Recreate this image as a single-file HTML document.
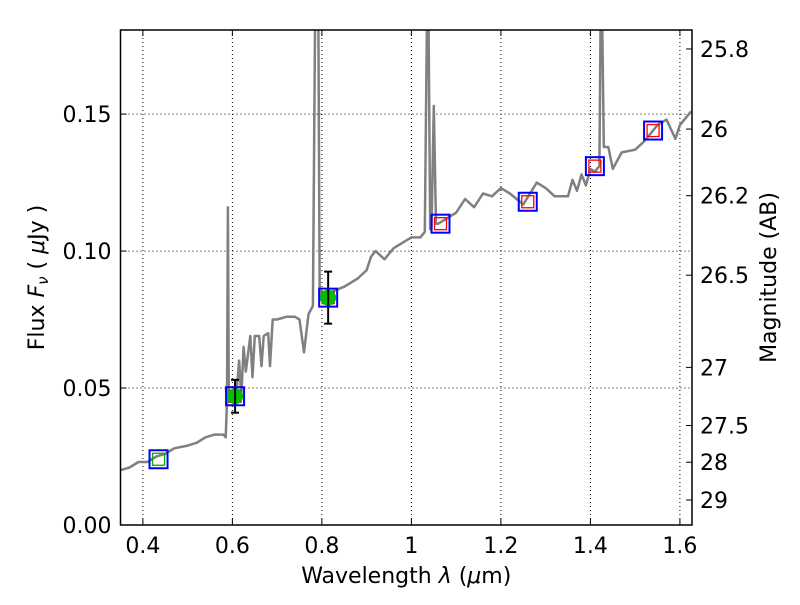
<!DOCTYPE html>
<html><head><meta charset="utf-8"><style>
body{margin:0;background:#fff}
svg text{font-family:"DejaVu Sans","Liberation Sans",sans-serif;fill:#000}
</style></head><body>
<svg id="chart" width="800" height="600"></svg>
<script>
const specLam=[0.35,0.37,0.39,0.41,0.43,0.45,0.47,0.50,0.52,0.54,0.56,0.58,0.585,0.588,0.590,0.592,0.60,0.61,0.615,0.62,0.625,0.63,0.64,0.645,0.65,0.66,0.665,0.67,0.68,0.684,0.69,0.70,0.72,0.74,0.75,0.76,0.77,0.78,0.785,0.788,0.792,0.795,0.80,0.82,0.85,0.88,0.90,0.91,0.92,0.94,0.96,0.98,1.0,1.02,1.03,1.035,1.038,1.042,1.045,1.05,1.055,1.06,1.08,1.1,1.12,1.14,1.16,1.18,1.2,1.22,1.25,1.28,1.3,1.32,1.35,1.36,1.37,1.38,1.39,1.40,1.41,1.42,1.423,1.426,1.43,1.44,1.45,1.47,1.50,1.52,1.55,1.57,1.59,1.60,1.625];
const specFlux=[0.020,0.021,0.023,0.023,0.025,0.026,0.028,0.029,0.030,0.032,0.033,0.033,0.032,0.045,0.116,0.045,0.048,0.050,0.060,0.047,0.065,0.056,0.069,0.054,0.069,0.069,0.058,0.069,0.070,0.058,0.075,0.075,0.076,0.076,0.075,0.063,0.077,0.080,0.19,0.19,0.19,0.082,0.085,0.085,0.087,0.090,0.093,0.098,0.100,0.097,0.101,0.103,0.105,0.105,0.107,0.19,0.19,0.108,0.108,0.153,0.110,0.110,0.112,0.114,0.119,0.116,0.121,0.120,0.123,0.121,0.117,0.125,0.123,0.120,0.120,0.126,0.122,0.128,0.124,0.130,0.129,0.131,0.19,0.19,0.138,0.138,0.130,0.136,0.137,0.140,0.146,0.148,0.141,0.146,0.151];
const photLam=[0.435,0.606,0.814,1.065,1.26,1.41,1.54];
const photFlux=[0.024,0.047,0.083,0.110,0.118,0.131,0.144];
const obsLam=[0.606,0.814];
const obsFlux=[0.047,0.083];
const obsErr=[0.006,0.0095];
const xTicks=[0.4,0.6,0.8,1.0,1.2,1.4,1.6];
const xTickLabels=["0.4","0.6","0.8","1","1.2","1.4","1.6"];
const yTicks=[0,0.05,0.10,0.15];
const yTickLabels=["0.00","0.05","0.10","0.15"];
const magTicks=[25.8,26,26.2,26.5,27,27.5,28,29];
const magTickLabels=["25.8","26","26.2","26.5","27","27.5","28","29"];

const L=120.5,R=692,T=30,B=525,xmin=0.35,xmax=1.627,ymin=0,ymax=0.1807;
const X=v=>L+(v-xmin)/(xmax-xmin)*(R-L);
const Y=v=>B-(v-ymin)/(ymax-ymin)*(B-T);
const NS="http://www.w3.org/2000/svg";
const svg=document.getElementById('chart');
function mk(t,a,p){const e=document.createElementNS(NS,t);for(const k in a)e.setAttribute(k,a[k]);(p||svg).appendChild(e);return e;}
const defs=mk('defs',{});const cp=mk('clipPath',{id:'cp'},defs);mk('rect',{x:L,y:T,width:R-L,height:B-T},cp);
const FS=22;
xTicks.forEach((v,i)=>{
 const g=mk('line',{x1:X(v),x2:X(v),y1:T,y2:B,stroke:'#000','stroke-width':1,'stroke-dasharray':'1,3'});
 
 
 const tk=mk('line',{x1:X(v),x2:X(v),y1:B,y2:B-6,stroke:'#000'});
 
 
 mk('line',{x1:X(v),x2:X(v),y1:T,y2:T+6,stroke:'#000'});
 const t=mk('text',{x:X(v),y:B+28,'text-anchor':'middle','font-size':FS});t.textContent=xTickLabels[i];
 
 
});
yTicks.forEach((v,i)=>{
 if(v>0){const g=mk('line',{x1:L,x2:R,y1:Y(v),y2:Y(v),stroke:'#000','stroke-width':1,'stroke-dasharray':'1,3'});
 
 }
 mk('line',{x1:L,x2:L+6,y1:Y(v),y2:Y(v),stroke:'#000'});
 const t=mk('text',{x:L-9,y:Y(v)+8,'text-anchor':'end','font-size':FS});t.textContent=yTickLabels[i];
 
 
});
magTicks.forEach((m,i)=>{
 const f=Math.pow(10,(23.9-m)/2.5);const y=Y(f);
 mk('line',{x1:R,x2:R-6,y1:y,y2:y,stroke:'#000'});
 const t=mk('text',{x:R+8,y:y+8,'text-anchor':'start','font-size':FS});t.textContent=magTickLabels[i];
 
 
});
const pts=specLam.map((l,i)=>X(l).toFixed(1)+','+Y(specFlux[i]).toFixed(1)).join(' ');
const sp=mk('polyline',{points:pts,fill:'none',stroke:'#808080','stroke-width':2.5,'stroke-linejoin':'round','clip-path':'url(#cp)'});


photLam.forEach((l,i)=>{
 const x=X(l),y=Y(photFlux[i]);
 const inner=mk('rect',{x:x-6,y:y-6,width:12,height:12,fill:'none',stroke:i==0?'#00b000':'#ff0000','stroke-width':1.3});
 
 
});
obsLam.forEach((l,i)=>{
 const x=X(l),y=Y(obsFlux[i]);
 const c=mk('circle',{cx:x,cy:y,r:8,fill:'#00c000'});
 
 
 const eb=mk('g',{stroke:'#000','stroke-width':2});
 
 
 const y1=Y(obsFlux[i]+obsErr[i]),y2=Y(obsFlux[i]-obsErr[i]);
 mk('line',{x1:x,x2:x,y1:y1,y2:y2},eb);mk('line',{x1:x-4,x2:x+4,y1:y1,y2:y1},eb);mk('line',{x1:x-4,x2:x+4,y1:y2,y2:y2},eb);
});
photLam.forEach((l,i)=>{
 const x=X(l),y=Y(photFlux[i]);
 const s=mk('rect',{x:x-9,y:y-9,width:18,height:18,fill:'none',stroke:'#0000ff','stroke-width':2});
 
 
});
const fr=mk('rect',{x:L,y:T,width:R-L,height:B-T,fill:'none',stroke:'#000','stroke-width':1.5});


const xt=mk('text',{x:(L+R)/2,y:583,'text-anchor':'middle','font-size':FS});
xt.innerHTML='Wavelength  <tspan font-style="italic">λ</tspan> (<tspan font-style="italic">μ</tspan>m)';


const yt=mk('text',{x:0,y:0,'text-anchor':'middle','font-size':FS,transform:'translate(44,'+((T+B)/2)+') rotate(-90)'});
yt.innerHTML='Flux  <tspan font-style="italic">F</tspan><tspan font-style="italic" font-size="15" dy="4">ν</tspan><tspan dy="-4">  ( </tspan><tspan font-style="italic">μ</tspan>Jy )';


const yr=mk('text',{x:0,y:0,'text-anchor':'middle','font-size':FS,transform:'translate(776,'+((T+B)/2)+') rotate(-90)'});
yr.textContent='Magnitude (AB)';


</script>
</body></html>
